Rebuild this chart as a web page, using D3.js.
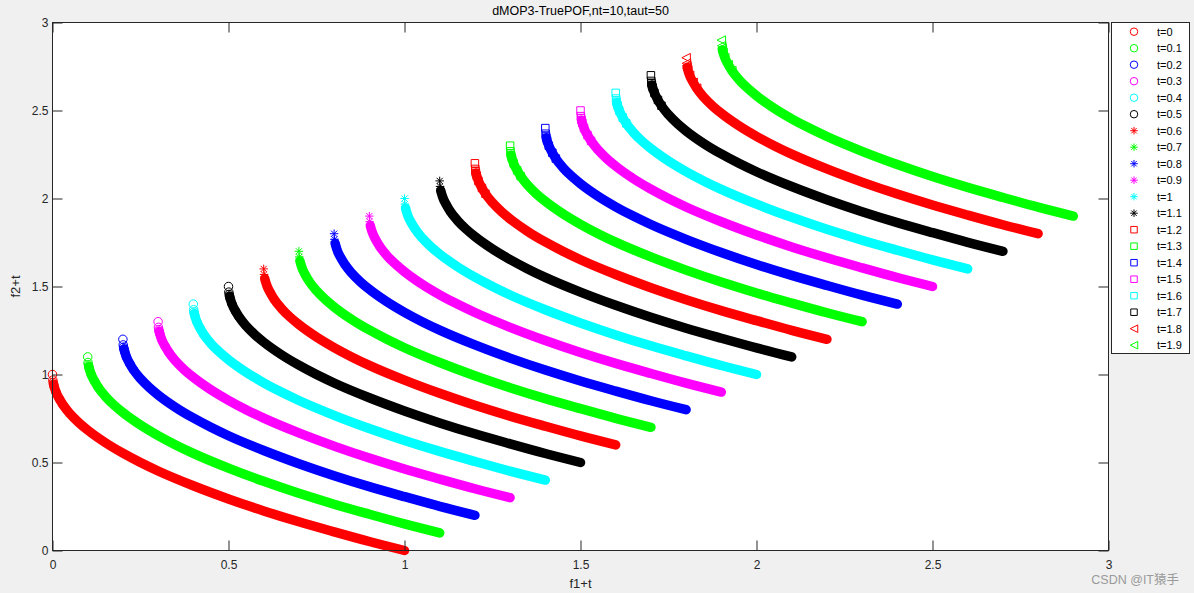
<!DOCTYPE html>
<html><head><meta charset="utf-8">
<script src="https://cdn.jsdelivr.net/npm/d3@7"></script>
<style>
html,body{margin:0;padding:0;background:#f0f0f0;}
svg{display:block;font-family:"Liberation Sans",Arial,Helvetica,sans-serif;}
</style></head>
<body><svg id="chart" width="1194" height="593"></svg>
<script>
// ---- data ----
const tValues = [0,0.1,0.2,0.3,0.4,0.5,0.6,0.7,0.8,0.9,1,1.1,1.2,1.3,1.4,1.5,1.6,1.7,1.8,1.9];
const seriesLabels = ["t=0","t=0.1","t=0.2","t=0.3","t=0.4","t=0.5","t=0.6","t=0.7","t=0.8","t=0.9","t=1","t=1.1","t=1.2","t=1.3","t=1.4","t=1.5","t=1.6","t=1.7","t=1.8","t=1.9"];
const seriesColors = ["#ff0000","#00ff00","#0000ff","#ff00ff","#00ffff","#000000",
                      "#ff0000","#00ff00","#0000ff","#ff00ff","#00ffff","#000000",
                      "#ff0000","#00ff00","#0000ff","#ff00ff","#00ffff","#000000",
                      "#ff0000","#00ff00"];
const seriesMarkers = ["o","o","o","o","o","o","*","*","*","*","*","*","s","s","s","s","s","s","<","<"];
// base front (t=0): f1 and f2
const baseF1 = [0,0.001,0.002,0.003,0.005,0.01,0.02,0.03,0.05,0.075,0.1,0.15,0.2,0.25,0.3,0.4,0.5,0.6,0.7,0.8,0.9,1.0];
const baseF2 = [1.0,0.968,0.955,0.945,0.93,0.9,0.86,0.827,0.776,0.726,0.684,0.613,0.553,0.5,0.452,0.368,0.293,0.225,0.163,0.106,0.051,0];
const xTicks = [0,0.5,1,1.5,2,2.5,3];
const yTicks = [0,0.5,1,1.5,2,2.5,3];
const titleText = "dMOP3-TruePOF,nt=10,taut=50";

// ---- layout ----
const svg = d3.select("#chart");
const L = 52.5, R = 1108.5, T = 22.5, B = 550.5;
const x = d3.scaleLinear().domain([0,3]).range([L,R]);
const y = d3.scaleLinear().domain([0,3]).range([B,T]);

svg.append("rect").attr("width",1194).attr("height",593).attr("fill","#f0f0f0");
svg.append("rect").attr("x",L).attr("y",T).attr("width",R-L).attr("height",B-T).attr("fill","#fff");

function markerPath(shape, s){
  const h = s/2;
  if(shape==="o"){ return `M${h},0A${h},${h} 0 1,1 ${-h},0A${h},${h} 0 1,1 ${h},0Z`; }
  if(shape==="s"){ return `M${-h},${-h}H${h}V${h}H${-h}Z`; }
  if(shape==="<"){ return `M${-h},0L${h},${-h}L${h},${h}Z`; }
  if(shape==="*"){ const d=h*0.72; return `M${-h},0H${h}M0,${-h}V${h}M${-d},${-d}L${d},${d}M${-d},${d}L${d},${-d}`; }
  return "";
}

const plot = svg.append("g");
const line = d3.line().x(d=>x(d[0])).y(d=>y(d[1])).curve(d3.curveMonotoneX);

tValues.forEach((t,i)=>{
  const pts = baseF1.map((f,k)=>[f+t, baseF2[k]+t]);
  const g = plot.append("g");
  g.append("path").datum(pts.slice(3)).attr("d",line)
    .attr("fill","none").attr("stroke",seriesColors[i]).attr("stroke-width",9.5)
    .attr("stroke-linecap","round").attr("stroke-linejoin","round");
  g.selectAll("path.m").data(pts.slice(0,8)).enter().append("path").attr("class","m")
    .attr("transform",d=>`translate(${x(d[0])},${y(d[1])})`)
    .attr("d",markerPath(seriesMarkers[i], seriesMarkers[i]==="s"?7.5:8.5))
    .attr("fill","none").attr("stroke",seriesColors[i]).attr("stroke-width",1);
});

// axes
const axCol = "#262626";
const xB = d3.axisBottom(x).tickValues(xTicks).tickSize(-10).tickPadding(10).tickFormat(d3.format("~g"));
const yL = d3.axisLeft(y).tickValues(yTicks).tickSize(-10).tickPadding(14).tickFormat(d3.format("~g"));
const xT = d3.axisTop(x).tickValues(xTicks).tickSize(-10).tickFormat("");
const yR = d3.axisRight(y).tickValues(yTicks).tickSize(-10).tickFormat("");
function style(g){ g.selectAll("path,line").attr("stroke",axCol).attr("stroke-width",1);
  g.selectAll("text").attr("fill",axCol).attr("font-size",12).attr("font-family","Liberation Sans, Arial, sans-serif"); }
svg.append("g").attr("transform",`translate(0,${B})`).call(xB).call(style);
svg.append("g").attr("transform",`translate(${L},0)`).call(yL).call(style).selectAll("text").attr("dx",10);
svg.append("g").attr("transform",`translate(0,${T})`).call(xT).call(style);
svg.append("g").attr("transform",`translate(${R},0)`).call(yR).call(style);
svg.selectAll(".domain").attr("d",null);
svg.append("rect").attr("x",L).attr("y",T).attr("width",R-L).attr("height",B-T).attr("fill","none").attr("stroke",axCol).attr("stroke-width",1);

// title & labels
svg.append("text").attr("x",(L+R)/2).attr("y",15).attr("text-anchor","middle").attr("font-size",12.5).attr("fill","#000").text(titleText);
svg.append("text").attr("x",(L+R)/2).attr("y",588).attr("text-anchor","middle").attr("font-size",13).attr("fill",axCol).text("f1+t");
svg.append("text").attr("transform",`translate(20,${(T+B)/2}) rotate(-90)`).attr("text-anchor","middle").attr("font-size",13).attr("fill",axCol).text("f2+t");

// legend
const lgX = 1111, lgY = 22, lgW = 78, lgH = 331;
svg.append("rect").attr("x",lgX+0.5).attr("y",lgY+0.5).attr("width",lgW).attr("height",lgH).attr("fill","#fff").attr("stroke",axCol).attr("stroke-width",1);
const lg = svg.append("g");
seriesLabels.forEach((lab,i)=>{
  const yy = 31.7 + i*16.5;
  lg.append("path").attr("transform",`translate(1134,${yy})`).attr("d",markerPath(seriesMarkers[i], seriesMarkers[i]==="s"?6.5:7.5))
    .attr("fill","none").attr("stroke",seriesColors[i]).attr("stroke-width",1);
  lg.append("text").attr("x",1157).attr("y",yy+4).attr("font-size",11).attr("fill","#000").text(lab);
});

// watermark
svg.append("text").attr("x",1179).attr("y",584).attr("text-anchor","end").attr("font-size",12.5).attr("fill","#9a9a9a")
  .attr("font-family","Liberation Sans, 'Noto Sans CJK SC', sans-serif").text("CSDN @IT猿手");
</script></body></html>
